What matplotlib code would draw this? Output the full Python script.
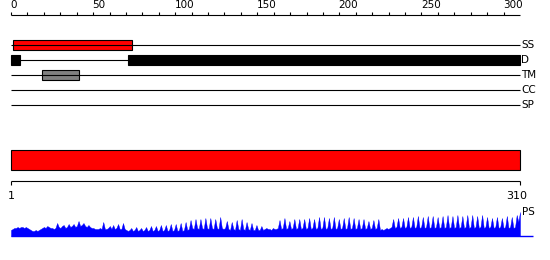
import matplotlib
matplotlib.use("Agg")
import matplotlib.pyplot as plt

# ── Data ──────────────────────────────────────────────────────────
seq_len = 310
ruler_labels = [0, 50, 100, 150, 200, 250, 300]

track_names = ["SS", "D", "TM", "CC", "SP"]

# feature boxes (start, end) on the top ruler
ss_regions = [(1.5, 73.5)]
d_regions = [(0, 5.5), (71.5, 310)]
tm_regions = [(19, 41.5)]
cc_regions = []
sp_regions = []

# per-residue profile (PS)
ps_values = [
    6, 7, 8, 8, 9, 8, 9, 9, 8, 9, 8, 7,
    6, 5, 5, 6, 5, 6,
    7, 8, 9, 8, 10, 9, 8, 8, 7, 8,
    13, 9, 8, 10, 11, 8, 9, 12, 9, 10, 12, 9, 10, 15, 10, 11, 13, 10, 9, 11, 9, 8,
    8, 7, 7, 7, 8, 7,
    14, 7, 7, 8, 10, 7, 11, 7, 8, 12, 7, 7, 13, 7, 6,
    5, 6, 8, 5, 6, 9, 5, 6, 8, 5, 6, 9, 5, 6, 10, 5, 6, 10, 5, 6, 11, 5, 6, 11,
    5, 6, 12, 5, 6, 12, 5, 6, 13, 5, 6, 14, 6,
    7, 16, 8, 7, 17, 8, 7, 17, 8, 7, 18, 8, 7, 18, 8, 7, 17, 8, 7, 19, 8, 7,
    8, 15, 7, 6, 14, 7, 6, 16, 7, 6, 17, 7, 6, 14, 7, 6, 13, 6, 6, 11, 6, 6, 10,
    6, 7, 8, 7,
    7, 6, 8, 7,
    7, 8, 16, 7, 8, 18, 7, 8, 15, 7, 8, 17, 7, 8, 17, 7, 8, 17, 7, 8, 18,
    7, 8, 17, 7, 8, 19, 7, 8, 19, 7, 8, 18, 7, 8, 19, 7, 8, 17, 7, 8, 18,
    7, 8, 19, 7, 8, 18, 7, 8, 17, 7, 8, 17, 7, 8, 15, 7, 8, 16, 7, 8, 17,
    6, 7, 6, 7, 8, 7,
    8, 9, 17, 8, 9, 18, 8, 9, 18, 8, 9, 19, 8, 9, 19, 8, 9, 20, 8, 9, 19,
    8, 9, 20, 8, 9, 20, 8, 9, 19, 8, 9, 20, 8, 9, 21, 8, 9, 20, 8, 9, 21,
    8, 9, 20, 8, 9, 21, 8, 9, 21, 8, 9, 20, 8, 9, 21, 8, 9, 19, 8, 9, 18,
    8, 9, 19, 8, 9, 18, 8, 9, 20, 8, 9, 19, 8, 9, 21,
    14, 24,
]
residues = list(range(1, len(ps_values) + 1))

# ── Figure ────────────────────────────────────────────────────────
W, H = 550, 260
fig = plt.figure(figsize=(W / 100, H / 100), dpi=100)
plt.rcParams["font.family"] = ["DejaVu Sans"]
FS = 7.5
LW = 0.8

# top part: ruler + tracks (x in ruler units)
px_top = 509 / seq_len
ax = fig.add_axes([0, 0, 1, 1])
ax.set_xlim(-11 / px_top, (W - 11) / px_top)
ax.set_ylim(H, 0)
ax.axis("off")

ax.hlines(15, 0, seq_len, color="black", lw=LW)
ax.vlines(list(range(0, seq_len, 10)), 12, 15, color="black", lw=LW)
for t in ruler_labels:
    ax.text(t - 0.4, 10, str(t), ha="left", va="bottom", fontsize=FS)

regions = [ss_regions, d_regions, tm_regions, cc_regions, sp_regions]
colors = ["red", "black", "grey", "white", "white"]
for i, name in enumerate(track_names):
    y = 45 + 15 * i
    ax.hlines(y, 0, seq_len, color="black", lw=LW)
    ax.text(seq_len + 0.6, y, name, ha="left", va="center", fontsize=FS)
    for start, end in regions[i]:
        ax.barh(y, end - start, left=start, height=10, color=colors[i],
                edgecolor="black", lw=LW)

# bottom part: full-length bar + 1..310 ruler (x in residues)
px_bot = 509 / (seq_len - 1)
xlim_bot = (1 - 11 / px_bot, seq_len + (W - 520) / px_bot)
ax2 = fig.add_axes([0, 0, 1, 1])
ax2.patch.set_alpha(0)
ax2.set_xlim(*xlim_bot)
ax2.set_ylim(H, 0)
ax2.axis("off")

ax2.barh(160, seq_len - 1, left=1, height=20, color="red",
         edgecolor="black", lw=LW)
ax2.hlines(180.5, 1, seq_len, color="black", lw=LW)
ax2.vlines([1, seq_len], 180.5, 185, color="black", lw=LW)
ax2.text(1, 196, "1", ha="center", va="center", fontsize=FS + 0.5)
ax2.text(seq_len - 2, 196, str(seq_len), ha="center", va="center", fontsize=FS + 0.5)

# ── PS profile ────────────────────────────────────────────────────
ax3 = fig.add_axes([0, 24 / H, 1, 30 / H])
ax3.patch.set_alpha(0)
ax3.set_xlim(*xlim_bot)
ax3.set_ylim(0, 30)
ax3.axis("off")
ax3.fill_between(residues, ps_values, 0, color="blue", lw=0.3)
ax3.hlines(0.3, 1, 318, color="blue", lw=1.0, clip_on=False)
ax3.text(seq_len + 1, 24, "PS", ha="left", va="center", fontsize=FS)

fig.savefig("out.png", dpi=100)
